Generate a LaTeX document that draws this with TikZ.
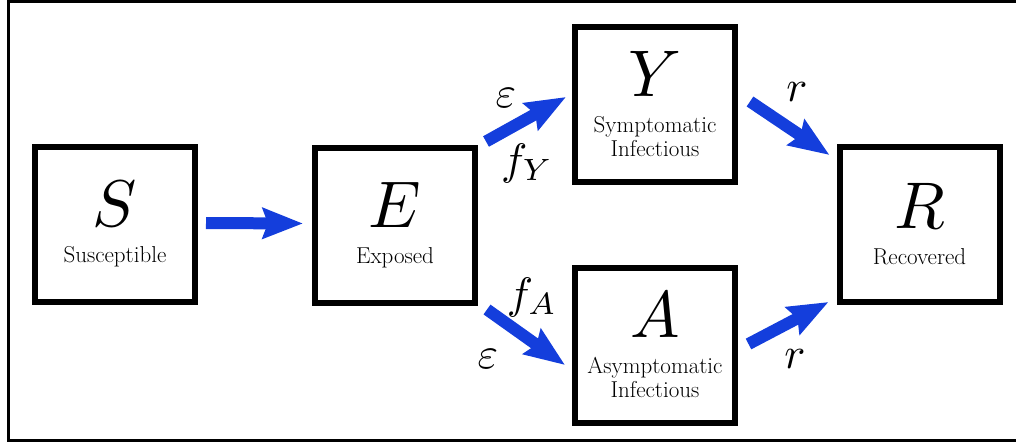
\documentclass[tikz,border=0pt]{standalone}
\usepackage{graphicx}
\usepackage{tikz}
\usetikzlibrary{arrows.meta, positioning}

\definecolor{flowblue}{RGB}{20,62,220}
\newcommand{\compsym}[1]{{\normalsize\scalebox{6.6}{$#1$}}}
\newcommand{\ratesym}[1]{{\normalsize\scalebox{4.4}{$#1$}}}

\tikzset{
    comp/.style={draw, line width=6pt, minimum width=160pt, minimum height=155pt,
        inner sep=0pt, align=center, font=\fontsize{23}{24}\selectfont},
    flow/.style={draw=flowblue, line width=12pt,
        -{Stealth[length=40pt, width=30pt, inset=5pt]}},
    rate/.style={inner sep=0pt}
}

\begin{document}
\begin{tikzpicture}[x=1pt, y=-1pt]
    \useasboundingbox (0,0) rectangle (1016,442);

    % Frame
    \draw[line width=3pt] (1016,1.5) -| (8.5,440.5) -- (1016,440.5);

    % Compartments
    \node[comp] (S) at (115,224.5) {\compsym{S}\\[12pt] Susceptible};
    \node[comp] (E) at (395,225) {\compsym{E}\\[12pt] Exposed};
    \node[comp] (Y) at (655,104.5) {\compsym{Y}\\[12pt] Symptomatic\\ Infectious};
    \node[comp] (A) at (655,345) {\compsym{A}\\[12pt] Asymptomatic\\ Infectious};
    \node[comp] (R) at (919.5,224.5) {\compsym{R}\\[12pt] Recovered};

    % Transitions
    \draw[flow] ([shift={(8,-1.5)}]S.east) -- ([shift={(-9,-1.5)}]E.west);
    \draw[flow] ([shift={(8,-3)}]E.north east) -- ([shift={(-6,-7.5)}]Y.west);
    \draw[flow] ([shift={(9,4)}]E.south east) -- ([shift={(-7,20)}]A.west);
    \draw[flow] ([shift={(12,-3)}]Y.east) -- ([shift={(-7,11)}]R.north west);
    \draw[flow] ([shift={(10.5,-1)}]A.east) -- ([shift={(-8,-3)}]R.south west);

    % Rates
    \node[rate] (epsY) at (506,98) {\ratesym{\varepsilon}};
    \node[rate] (fY) at (527,163) {\ratesym{f_Y}};
    \node[rate] (fA) at (532,297) {\ratesym{f_A}};
    \node[rate] (epsA) at (488,359) {\ratesym{\varepsilon}};
    \node[rate] (rY) at (797,92) {\ratesym{r}};
    \node[rate] (rA) at (795,359) {\ratesym{r}};
\end{tikzpicture}
\end{document}
